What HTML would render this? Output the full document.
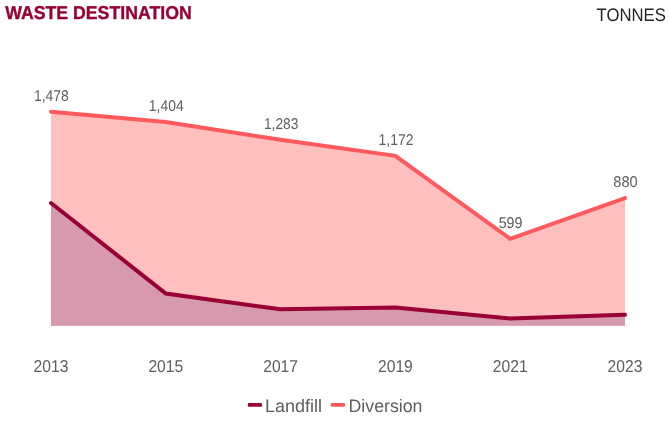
<!DOCTYPE html>
<html lang="en">
<head>
<meta charset="utf-8">
<title>Waste Destination</title>
<style>
html,body{margin:0;padding:0;background:#fff;}
body{width:668px;height:424px;overflow:hidden;font-family:"Liberation Sans",sans-serif;}
svg{display:block;}
text{font-family:"Liberation Sans",sans-serif;text-rendering:geometricPrecision;}
.ttl{font-weight:bold;fill:#990033;font-size:18.6px;stroke:#990033;stroke-width:0.35px;}
.unit{fill:#252423;font-size:18.2px;}
.dl{fill:#605e5c;font-size:15.6px;text-anchor:middle;}
.ax{fill:#605e5c;font-size:17.2px;text-anchor:middle;}
.lg{fill:#605e5c;font-size:18px;}
</style>
</head>
<body>
<svg xmlns="http://www.w3.org/2000/svg" width="668" height="424" viewBox="0 0 668 424">
  <rect width="668" height="424" fill="#ffffff"/>
  <text class="ttl" x="5.2" y="18.8" textLength="186.5" lengthAdjust="spacingAndGlyphs">WASTE DESTINATION</text>
  <text class="unit" x="596.6" y="20.5" textLength="69.2" lengthAdjust="spacingAndGlyphs">TONNES</text>

  <!-- Diversion area -->
  <path d="M51 111.7 L165.8 122 L280.6 139.8 L395.4 155.8 L510.2 238.8 L625 198.1 L625 325.7 L51 325.7 Z" fill="#febfbf"/>
  <!-- Landfill area -->
  <path d="M51 203 L165.8 293.6 L280.6 309.3 L395.4 307.6 L510.2 318.6 L625 314.8 L625 325.7 L51 325.7 Z" fill="#d699ad"/>
  <!-- Diversion line -->
  <path d="M51 111.7 L165.8 122 L280.6 139.8 L395.4 155.8 L510.2 238.8 L625 198.1" fill="none" stroke="#ff585d" stroke-width="4" stroke-linecap="round" stroke-linejoin="miter"/>
  <!-- Landfill line -->
  <path d="M51 203 L165.8 293.6 L280.6 309.3 L395.4 307.6 L510.2 318.6 L625 314.8" fill="none" stroke="#990033" stroke-width="4" stroke-linecap="round" stroke-linejoin="miter"/>

  <!-- data labels -->
  <text class="dl" x="51.35" y="100.8" textLength="34.9" lengthAdjust="spacingAndGlyphs">1,478</text>
  <text class="dl" x="166.3" y="110.8" textLength="34.9" lengthAdjust="spacingAndGlyphs">1,404</text>
  <text class="dl" x="281.15" y="128.8" textLength="34.5" lengthAdjust="spacingAndGlyphs">1,283</text>
  <text class="dl" x="396.05" y="144.8" textLength="34.9" lengthAdjust="spacingAndGlyphs">1,172</text>
  <text class="dl" x="510.6" y="227.8" textLength="23.8" lengthAdjust="spacingAndGlyphs">599</text>
  <text class="dl" x="625.5" y="187" textLength="24.4" lengthAdjust="spacingAndGlyphs">880</text>

  <!-- axis labels -->
  <text class="ax" x="51" y="372" textLength="34.8" lengthAdjust="spacingAndGlyphs">2013</text>
  <text class="ax" x="165.8" y="372" textLength="34.8" lengthAdjust="spacingAndGlyphs">2015</text>
  <text class="ax" x="280.6" y="372" textLength="34.8" lengthAdjust="spacingAndGlyphs">2017</text>
  <text class="ax" x="395.4" y="372" textLength="34.8" lengthAdjust="spacingAndGlyphs">2019</text>
  <text class="ax" x="510.2" y="372" textLength="34.8" lengthAdjust="spacingAndGlyphs">2021</text>
  <text class="ax" x="625" y="372" textLength="34.8" lengthAdjust="spacingAndGlyphs">2023</text>

  <!-- legend -->
  <rect x="247.8" y="403.1" width="14.3" height="3.7" rx="1.3" fill="#990033"/>
  <text class="lg" x="265" y="411.7" textLength="57" lengthAdjust="spacingAndGlyphs">Landfill</text>
  <rect x="330.8" y="403.1" width="14.3" height="3.7" rx="1.3" fill="#ff585d"/>
  <text class="lg" x="348.5" y="411.7" textLength="74" lengthAdjust="spacingAndGlyphs">Diversion</text>
</svg>
</body>
</html>
